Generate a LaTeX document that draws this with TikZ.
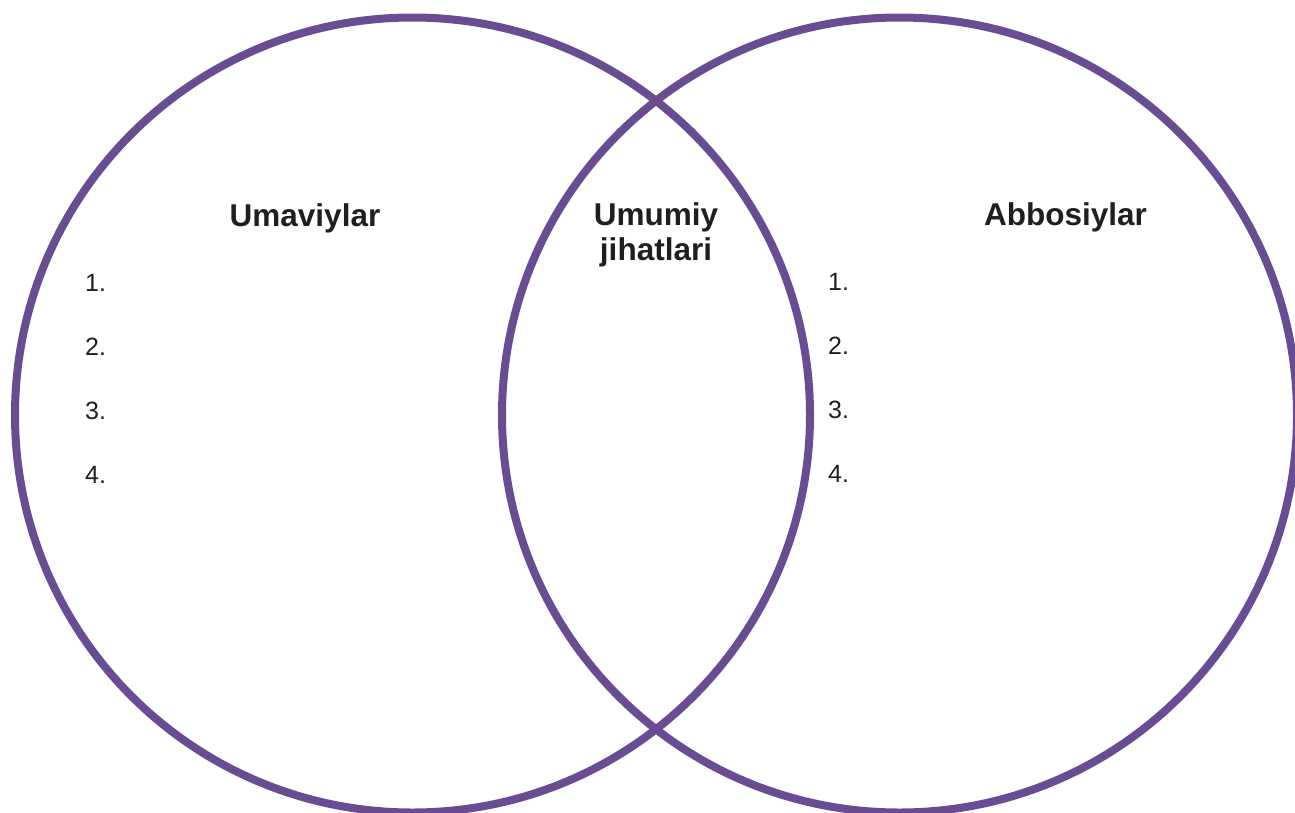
\documentclass[tikz,border=0pt]{standalone}
\usepackage{fontspec}
\setmainfont{Liberation Sans}
\definecolor{vpurple}{RGB}{106,76,146}
\tikzset{
  ring/.style={draw=vpurple, line width=8pt},
  head/.style={font=\bfseries\fontsize{31.5}{36}\selectfont, text=black!88, inner sep=0pt, anchor=base, align=center},
  num/.style={font=\fontsize{25}{30}\selectfont, text=black!88, inner sep=0pt, anchor=base west},
}
\begin{document}
\begin{tikzpicture}[x=1pt,y=-1pt]
\useasboundingbox (0,0) rectangle (1295,812);
\clip (0,0) rectangle (1295,812);
\fill[white] (0,0) rectangle (1295,812);
\coordinate (cl) at (412.5,415);
\coordinate (cr) at (899.5,415);
\draw[ring] (cl) circle[radius=397.5];
\draw[ring] (cr) circle[radius=397.5];
\node[head] (h1) at (305,226) {Umaviylar};
\node[head] (h2) at (656,225) {Umumiy};
\node[head] (h3) at (656,260) {jihatlari};
\node[head] (h4) at (1065.5,225) {Abbosiylar};
\node[num] (l1) at (85,291) {1.};
\node[num] (l2) at (85,355) {2.};
\node[num] (l3) at (85,419) {3.};
\node[num] (l4) at (85,483) {4.};
\node[num] (r1) at (828,290) {1.};
\node[num] (r2) at (828,354) {2.};
\node[num] (r3) at (828,418) {3.};
\node[num] (r4) at (828,482) {4.};
\end{tikzpicture}
\end{document}
